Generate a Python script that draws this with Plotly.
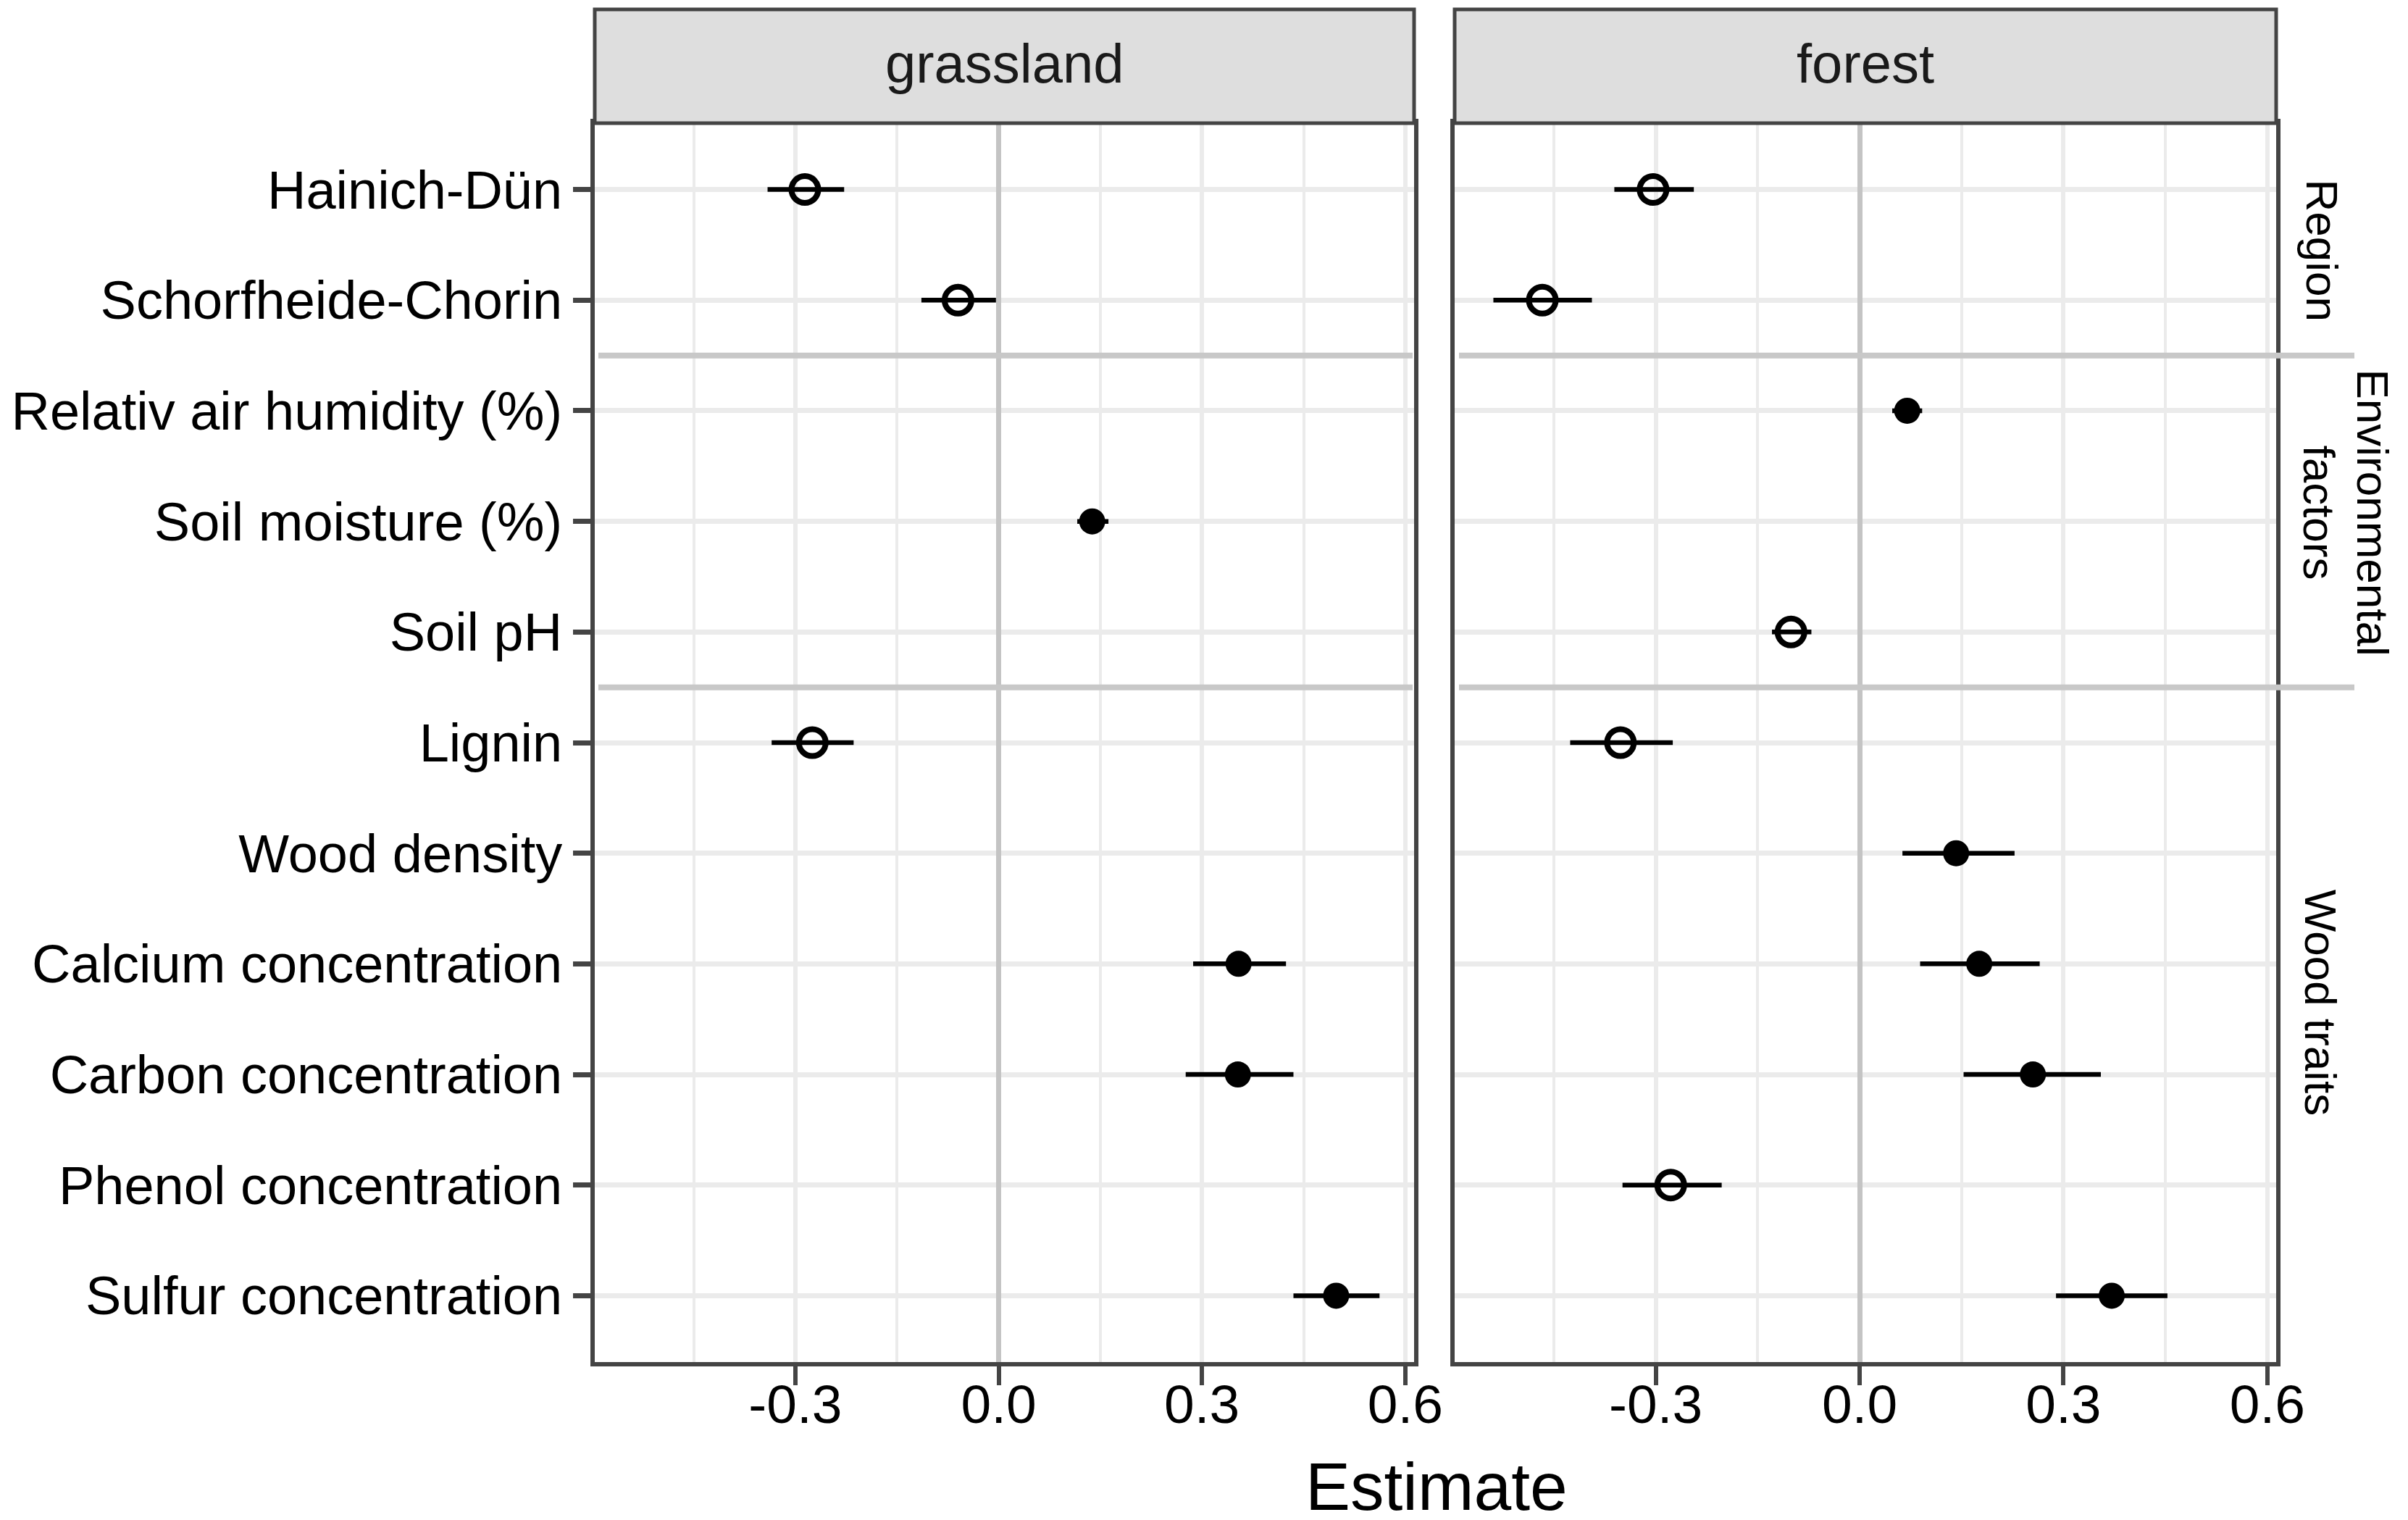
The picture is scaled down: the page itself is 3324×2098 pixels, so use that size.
import plotly.graph_objects as go

# categories, top to bottom
rows = ["Hainich-Dün", "Schorfheide-Chorin", "Relativ air humidity (%)",
        "Soil moisture (%)", "Soil pH", "Lignin", "Wood density",
        "Calcium concentration", "Carbon concentration",
        "Phenol concentration", "Sulfur concentration"]

# grassland estimates with lower / upper interval
grass_est = [-0.286, -0.060, None, 0.138, None, -0.275, None, 0.354, 0.353, None, 0.498]
grass_lo = [-0.341, -0.114, None, 0.116, None, -0.335, None, 0.287, 0.276, None, 0.435]
grass_hi = [-0.228, -0.004, None, 0.162, None, -0.214, None, 0.424, 0.435, None, 0.562]

# forest estimates with lower / upper interval
forest_est = [-0.304, -0.467, 0.070, None, -0.101, -0.352, 0.142, 0.176, 0.255, -0.278, 0.371]
forest_lo = [-0.361, -0.539, 0.048, None, -0.129, -0.426, 0.063, 0.089, 0.153, -0.349, 0.289]
forest_hi = [-0.244, -0.394, 0.092, None, -0.071, -0.275, 0.228, 0.265, 0.355, -0.203, 0.453]

panels = ["grassland", "forest"]
# right-hand group labels: one entry per text line
group_lines = ["Region", "Environmental", "factors", "Wood traits"]
group_pos = [0.55, 2.92, 2.92, 7.35]
group_px = [3197, 3268, 3194, 3195]
separators = [1.5, 4.5]

x_ticks = [-0.3, 0.0, 0.3, 0.6]
x_ticktext = ["-0.3", "0.0", "0.3", "0.6"]
x_minor = [-0.45, -0.15, 0.15, 0.45]

W, H = 3324, 2098
FONT = "Liberation Sans, Arial, sans-serif"
BORDER = "#444444"
GRID = "#EBEBEB"

# pixel layout of the two panels
px_left = [(813, 1944), (2000, 3134)]
px_top, px_bottom = 162, 1872
y_dom = [1 - px_bottom / H, 1 - px_top / H]


def traces_for(est, lo, hi, xa, ya):
    out = []
    for filled in (False, True):
        ys, xs, plus, minus = [], [], [], []
        for i, e in enumerate(est):
            if e is None or (e > 0) != filled:
                continue
            ys.append(i)
            xs.append(e)
            plus.append(hi[i] - e)
            minus.append(e - lo[i])
        out.append(go.Scatter(
            x=xs, y=ys, mode="markers", xaxis=xa, yaxis=ya, showlegend=False,
            marker=dict(symbol="circle" if filled else "circle-open",
                        size=36 if filled else 37, color="black", opacity=1,
                        line=dict(color="black", width=0 if filled else 8)),
            error_x=dict(type="data", symmetric=False, array=plus, arrayminus=minus,
                         color="black", thickness=6.5, width=0),
        ))
    return out


fig = go.Figure()
for t in traces_for(grass_est, grass_lo, grass_hi, "x", "y"):
    fig.add_trace(t)
for t in traces_for(forest_est, forest_lo, forest_hi, "x2", "y2"):
    fig.add_trace(t)

xcommon = dict(
    range=[-0.596, 0.613], tickvals=x_ticks, ticktext=x_ticktext, automargin=False,
    showgrid=True, gridcolor=GRID, gridwidth=6,
    minor=dict(tickvals=x_minor, showgrid=True, gridcolor=GRID, gridwidth=4, ticks=""),
    zeroline=True, zerolinecolor="#C4C4C4", zerolinewidth=7,
    showline=True, linecolor=BORDER, linewidth=6, mirror=True,
    ticks="outside", ticklen=26, tickwidth=6, tickcolor=BORDER,
    tickfont=dict(family=FONT, size=75, color="black"),
    ticklabelstandoff=-38,
)
ycommon = dict(
    range=[10.6, -0.6], tickvals=list(range(len(rows))), automargin=False,
    showgrid=True, gridcolor=GRID, gridwidth=7, zeroline=False,
    showline=True, linecolor=BORDER, linewidth=6, mirror=True,
)

fig.update_layout(
    template="none",
    width=W, height=H, margin=dict(l=0, r=0, t=0, b=0),
    paper_bgcolor="white", plot_bgcolor="white",
    xaxis=dict(domain=[px_left[0][0] / W, px_left[0][1] / W], anchor="y", **xcommon),
    xaxis2=dict(domain=[px_left[1][0] / W, px_left[1][1] / W], anchor="y2", **xcommon),
    yaxis=dict(domain=y_dom, anchor="x", ticktext=rows,
               ticks="outside", ticklen=24, tickwidth=7, tickcolor=BORDER,
               tickfont=dict(family=FONT, size=74, color="black"),
               ticklabelstandoff=0, **ycommon),
    yaxis2=dict(domain=y_dom, anchor="x2", matches="y", showticklabels=False,
                ticks="", **ycommon),
)

# facet strips on top
for (l, r), name in zip(px_left, panels):
    fig.add_shape(type="rect", xref="paper", yref="paper",
                  x0=l / W, x1=r / W, y0=1 - px_top / H, y1=1 - 5 / H,
                  fillcolor="#DEDEDE", line=dict(color=BORDER, width=5), layer="above")
    fig.add_annotation(text=name, xref="paper", yref="paper",
                       x=(l + r) / 2 / W, y=1 - 80 / H, showarrow=False,
                       xanchor="center", yanchor="middle",
                       font=dict(family=FONT, size=76, color="#1A1A1A"))

# group separators
for s in separators:
    fig.add_shape(type="line", xref="paper", yref="y", x0=818 / W, x1=1942 / W,
                  y0=s, y1=s, line=dict(color="#C8C8C8", width=8), layer="above")
    fig.add_shape(type="line", xref="paper", yref="y", x0=2006 / W, x1=3242 / W,
                  y0=s, y1=s, line=dict(color="#C8C8C8", width=8), layer="above")

# group labels on the right
for g, p, xp in zip(group_lines, group_pos, group_px):
    fig.add_annotation(text=g, xref="paper", yref="y2", x=xp / W, y=p,
                       showarrow=False, textangle=90, xanchor="center", yanchor="middle",
                       font=dict(family=FONT, size=62, color="black"))

fig.add_annotation(text="Estimate", xref="paper", yref="paper",
                   x=1975 / W, y=1 - 2044 / H, showarrow=False,
                   xanchor="center", yanchor="middle",
                   font=dict(family=FONT, size=93, color="black"))

fig.write_html("out.html")
